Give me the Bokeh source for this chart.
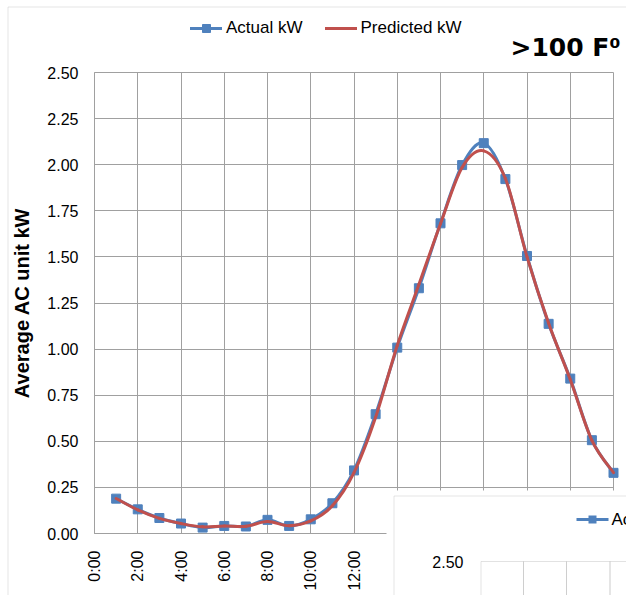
import math
from bokeh.plotting import figure
from bokeh.models import (Range1d, FixedTicker, NumeralTickFormatter, Legend, LegendItem,
                          BoxAnnotation, Label, ColumnDataSource)
from bokeh.embed import file_html
from bokeh.resources import INLINE

# ---------------- data ----------------
hours = [1, 2, 3, 4, 5, 6, 7, 8, 9, 10, 11, 12,
         13, 14, 15, 16, 17, 18, 19, 20, 21, 22, 23, 24]
actual_kw = [0.189, 0.131, 0.084, 0.054, 0.032, 0.041, 0.038, 0.074, 0.041, 0.077, 0.164, 0.342,
             0.647, 1.008, 1.330, 1.682, 1.998, 2.117, 1.922, 1.505, 1.137, 0.840, 0.506, 0.329]
predicted_kw = [0.190, 0.128, 0.082, 0.054, 0.036, 0.041, 0.039, 0.065, 0.042, 0.068, 0.150, 0.330,
                0.630, 1.020, 1.350, 1.680, 1.985, 2.075, 1.925, 1.500, 1.140, 0.835, 0.505, 0.330]
x_ticks = [0, 2, 4, 6, 8, 10, 12, 14, 16, 18, 20, 22, 24]
x_tick_labels = ["0:00", "2:00", "4:00", "6:00", "8:00", "10:00", "12:00",
                 "14:00", "16:00", "18:00", "20:00", "22:00", "24:00"]
y_ticks = [0.0, 0.25, 0.5, 0.75, 1.0, 1.25, 1.5, 1.75, 2.0, 2.25, 2.5]
series_names = ["Actual kW", "Predicted kW"]
title_text = ">100 F\u2070"
y_title = "Average AC unit kW"
inset_ticks = ["2.50", "2.25"]

BLUE = "#4F81BD"
RED = "#C0504D"
GRID = "#A0A0A0"
BORDER = "#A6A6A6"
FONT = "Liberation Sans"


def smooth(xs, ys):
    """Bezier segments (Catmull-Rom style) that pass through every data point."""
    px = [xs[0]] + list(xs) + [xs[-1]]
    py = [ys[0]] + list(ys) + [ys[-1]]
    d = dict(x0=[], y0=[], x1=[], y1=[], cx0=[], cy0=[], cx1=[], cy1=[])
    for i in range(len(xs) - 1):
        x0, y0 = px[i], py[i]
        x1, y1 = px[i + 1], py[i + 1]
        x2, y2 = px[i + 2], py[i + 2]
        x3, y3 = px[i + 3], py[i + 3]
        d["x0"].append(x1); d["y0"].append(y1)
        d["x1"].append(x2); d["y1"].append(y2)
        d["cx0"].append(x1 + (x2 - x0) / 6.0); d["cy0"].append(y1 + (y2 - y0) / 6.0)
        d["cx1"].append(x2 - (x3 - x1) / 6.0); d["cy1"].append(y2 - (y3 - y1) / 6.0)
    return ColumnDataSource(d)


# canvas size and where the plot area sits inside it (pixels)
W, H = 626, 595
PL, PR, PT, PB = 94, 613, 72, 533
X0, X1 = x_ticks[0], x_ticks[-1]
Y0, Y1 = y_ticks[0], y_ticks[-1]
sx = (X1 - X0) / (PR - PL)
sy = (Y1 - Y0) / (PB - PT)
x_range = Range1d(X0 - PL * sx, X0 + (W - PL) * sx)
y_range = Range1d(Y0 - (H - PB) * sy, Y0 + PB * sy)

p = figure(width=W, height=H, output_backend="svg", toolbar_location=None,
           x_range=x_range, y_range=y_range,
           min_border=0, min_border_left=0, min_border_right=0, min_border_top=0,
           min_border_bottom=0,
           background_fill_color="white", border_fill_color="white")
p.title.visible = False
p.outline_line_color = None

# axes, fixed inside the canvas
p.xaxis.fixed_location = Y0
p.yaxis.fixed_location = X0
p.xaxis.bounds = (X0, X1)
p.yaxis.bounds = (Y0, Y1)
p.xaxis.ticker = FixedTicker(ticks=x_ticks)
p.xaxis.major_label_overrides = {t: l for t, l in zip(x_ticks, x_tick_labels)}
p.xaxis.major_label_orientation = math.pi / 2
p.yaxis.ticker = FixedTicker(ticks=y_ticks)
p.yaxis.formatter = NumeralTickFormatter(format="0.00")
for ax in (p.xaxis[0], p.yaxis[0]):
    ax.axis_line_color = GRID
    ax.major_tick_line_color = None
    ax.major_tick_out = 0
    ax.major_tick_in = 0
    ax.minor_tick_line_color = None
    ax.minor_tick_out = 0
    ax.major_label_text_font = FONT
    ax.major_label_text_font_size = "16px"
    ax.major_label_text_color = "black"
p.xaxis.major_label_standoff = 17
p.yaxis.major_label_standoff = 16
p.yaxis.axis_label = y_title
p.yaxis.axis_label_text_font = FONT
p.yaxis.axis_label_text_font_style = "bold"
p.yaxis.axis_label_text_font_size = "20px"
p.yaxis.axis_label_text_color = "black"
p.yaxis.axis_label_standoff = 11

p.xgrid.ticker = FixedTicker(ticks=x_ticks)
p.ygrid.ticker = FixedTicker(ticks=y_ticks)
p.xgrid.bounds = (X0, X1)
p.ygrid.bounds = (Y0, Y1)
p.xgrid.cross_bounds = (Y0, Y1)
p.ygrid.cross_bounds = (X0, X1)
for g in (p.xgrid[0], p.ygrid[0]):
    g.grid_line_color = GRID
    g.grid_line_width = 1

# outer chart border
p.add_layout(BoxAnnotation(left=7.5, top=6.5, right=2000, bottom=2000,
                           left_units="canvas", right_units="canvas", top_units="canvas",
                           bottom_units="canvas", fill_alpha=0, line_color=BORDER, line_width=1,
                           level="underlay"))

# series
act_line = p.bezier(x0="x0", y0="y0", x1="x1", y1="y1", cx0="cx0", cy0="cy0", cx1="cx1", cy1="cy1",
                    source=smooth(hours, actual_kw), line_color=BLUE, line_width=3, line_cap="round")
act_pts = p.scatter(hours, actual_kw, marker="square", size=9, fill_color=BLUE, line_color=BLUE)
pred_line = p.bezier(x0="x0", y0="y0", x1="x1", y1="y1", cx0="cx0", cy0="cy0", cx1="cx1", cy1="cy1",
                     source=smooth(hours, predicted_kw), line_color=RED, line_width=3, line_cap="round")

legend = Legend(items=[LegendItem(label=series_names[0], renderers=[act_line, act_pts]),
                       LegendItem(label=series_names[1], renderers=[pred_line])],
                location=(190, H - 38), orientation="horizontal",
                border_line_color=None, background_fill_alpha=0,
                padding=0, margin=0, spacing=22, label_standoff=4,
                glyph_width=32, glyph_height=20, label_height=20,
                label_text_font=FONT, label_text_font_size="17px", label_text_color="black")
p.add_layout(legend)

# title
p.add_layout(Label(x=510, y=47, x_units="canvas", y_units="canvas", text=title_text,
                   text_font="DejaVu Sans", text_font_style="bold", text_font_size="25px",
                   text_baseline="alphabetic", text_color="black"))

# overlapping second chart (bottom right)
p.add_layout(BoxAnnotation(left=386, top=490, right=2000, bottom=2000,
                           left_units="canvas", right_units="canvas", top_units="canvas",
                           bottom_units="canvas", fill_color="white", fill_alpha=1,
                           line_color=None, level="overlay"))
p.add_layout(BoxAnnotation(left=393.5, top=495.5, right=2000, bottom=2000,
                           left_units="canvas", right_units="canvas", top_units="canvas",
                           bottom_units="canvas", fill_color="white", fill_alpha=1,
                           line_color=BORDER, line_width=1, level="overlay"))
for l, r in [(480.5, 523), (523, 566), (566, 609.5), (609.5, 2000)]:
    p.add_layout(BoxAnnotation(left=l, top=561, right=r, bottom=2000,
                               left_units="canvas", right_units="canvas", top_units="canvas",
                               bottom_units="canvas", fill_alpha=0,
                               line_color=GRID, line_width=1, level="overlay"))
for t, yy in zip(inset_ticks, [561.7, 606.7]):
    p.add_layout(Label(x=463, y=yy, x_units="canvas", y_units="canvas", text=t,
                       text_font=FONT, text_font_size="16px", text_align="right",
                       text_baseline="middle", text_color="black", level="overlay"))
p.add_layout(BoxAnnotation(left=576, right=608, top=517.5, bottom=520.5,
                           left_units="canvas", right_units="canvas", top_units="canvas",
                           bottom_units="canvas", fill_color=BLUE, fill_alpha=1,
                           line_color=None, level="overlay"))
p.add_layout(BoxAnnotation(left=588, right=596, top=515, bottom=523,
                           left_units="canvas", right_units="canvas", top_units="canvas",
                           bottom_units="canvas", fill_color=BLUE, fill_alpha=1,
                           line_color=None, level="overlay"))
p.add_layout(Label(x=611, y=519, x_units="canvas", y_units="canvas", text=series_names[0],
                   text_font=FONT, text_font_size="17px", text_baseline="middle",
                   text_color="black", level="overlay"))

open("out.html", "w").write(file_html(p, INLINE))
